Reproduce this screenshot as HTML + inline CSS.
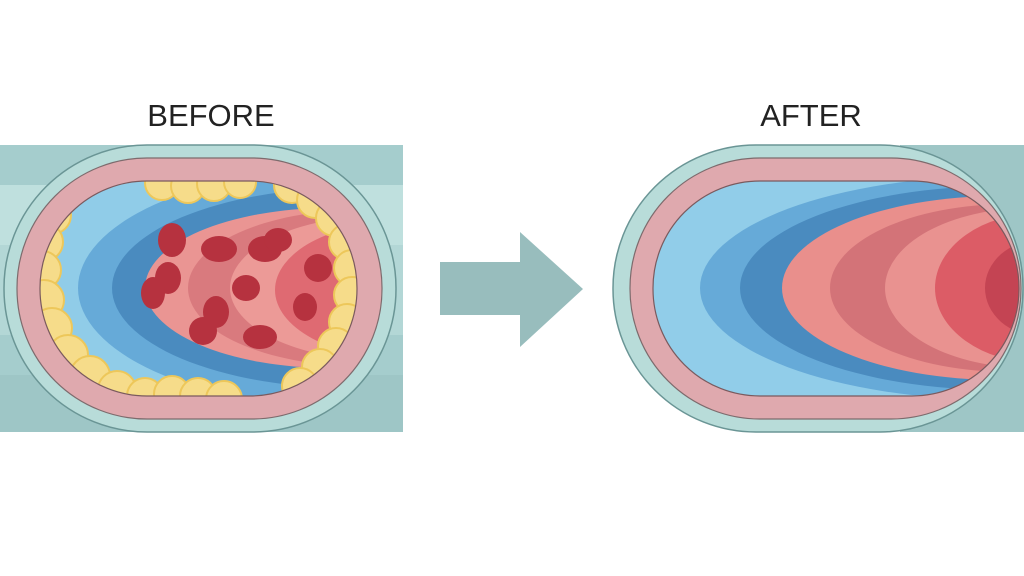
<!DOCTYPE html>
<html><head><style>body{margin:0;background:#fff}svg{display:block}</style></head><body>
<svg width="1024" height="576" viewBox="0 0 1024 576" xmlns="http://www.w3.org/2000/svg">
<defs>
<clipPath id="cl"><rect x="40" y="181" width="317" height="215" rx="107"/></clipPath>
<clipPath id="cr"><rect x="653" y="181" width="366" height="215" rx="107"/></clipPath>
</defs>
<rect width="1024" height="576" fill="#fff"/>
<text x="211" y="126" font-family="Liberation Sans, sans-serif" font-size="31" text-anchor="middle" fill="#222">BEFORE</text>
<text x="811" y="126" font-family="Liberation Sans, sans-serif" font-size="31" text-anchor="middle" fill="#222">AFTER</text>
<!-- left band -->
<rect x="0" y="145" width="403" height="287" fill="#a5cdcd"/>
<rect x="0" y="185" width="403" height="60" fill="#bfe0de"/>
<rect x="0" y="245" width="403" height="90" fill="#b3d7d6"/>
<rect x="0" y="375" width="403" height="57" fill="#9ec6c6"/>
<rect x="4" y="145" width="392" height="287" rx="143" fill="#b8dcd9" stroke="#6a9595" stroke-width="1.5"/>
<rect x="17" y="158" width="365" height="261" rx="130" fill="#dfa9ae" stroke="#7d6b6d" stroke-width="1.2"/>
<g clip-path="url(#cl)">
<rect x="40" y="181" width="317" height="215" fill="#90cce8"/>
<ellipse cx="340" cy="288" rx="262" ry="118" fill="#66aad8"/>
<ellipse cx="350" cy="288" rx="238" ry="100" fill="#4a8bbf"/>
<ellipse cx="330" cy="288" rx="185" ry="80" fill="#ea9593"/>
<ellipse cx="360" cy="288" rx="172" ry="78" fill="#d97a7e"/>
<ellipse cx="380" cy="288" rx="150" ry="72" fill="#ec9a97"/>
<ellipse cx="400" cy="290" rx="125" ry="68" fill="#df6a72"/>
<g fill="#b6323f">
<ellipse cx="172" cy="240" rx="14" ry="17"/><ellipse cx="168" cy="278" rx="13" ry="16"/>
<ellipse cx="153" cy="293" rx="12" ry="16"/><ellipse cx="219" cy="249" rx="18" ry="13"/>
<ellipse cx="265" cy="249" rx="17" ry="13"/><ellipse cx="278" cy="240" rx="14" ry="12"/>
<ellipse cx="246" cy="288" rx="14" ry="13"/><ellipse cx="216" cy="312" rx="13" ry="16"/>
<ellipse cx="203" cy="331" rx="14" ry="14"/><ellipse cx="260" cy="337" rx="17" ry="12"/>
<ellipse cx="318" cy="268" rx="14" ry="14"/><ellipse cx="305" cy="307" rx="12" ry="14"/>
</g>
<g fill="#f6dc8a" stroke="#edc75a" stroke-width="2">
<circle cx="162" cy="183" r="17"/><circle cx="188" cy="186" r="17"/><circle cx="214" cy="184" r="17"/><circle cx="240" cy="182" r="16"/>
<circle cx="52" cy="215" r="19"/><circle cx="44" cy="242" r="19"/><circle cx="42" cy="270" r="19"/><circle cx="44" cy="300" r="20"/><circle cx="52" cy="328" r="20"/><circle cx="68" cy="355" r="20"/><circle cx="90" cy="376" r="20"/><circle cx="117" cy="390" r="19"/><circle cx="145" cy="396" r="18"/><circle cx="172" cy="394" r="18"/><circle cx="198" cy="396" r="18"/><circle cx="224" cy="399" r="18"/>
<circle cx="292" cy="185" r="18"/><circle cx="315" cy="200" r="18"/><circle cx="334" cy="218" r="18"/><circle cx="347" cy="242" r="18"/><circle cx="352" cy="268" r="18"/><circle cx="352" cy="295" r="18"/><circle cx="347" cy="322" r="18"/><circle cx="336" cy="346" r="18"/><circle cx="320" cy="367" r="18"/><circle cx="300" cy="386" r="18"/>
</g>
</g>
<rect x="40" y="181" width="317" height="215" rx="107" fill="none" stroke="#7a5a5e" stroke-width="1.2"/>
<!-- arrow -->
<polygon points="440,262 520,262 520,232 583,289 520,347 520,315 440,315" fill="#98bdbd"/>
<!-- right band -->
<rect x="900" y="145" width="124" height="287" fill="#9ec6c6"/>
<rect x="613" y="145" width="410" height="287" rx="143" fill="#b8dcd9" stroke="#6a9595" stroke-width="1.5"/>
<rect x="630" y="158" width="391" height="261" rx="130" fill="#dfa9ae" stroke="#7d6b6d" stroke-width="1.2"/>
<g clip-path="url(#cr)">
<rect x="653" y="181" width="366" height="215" fill="#91cde9"/>
<ellipse cx="1000" cy="288" rx="300" ry="112" fill="#66aad8"/>
<ellipse cx="1000" cy="288" rx="260" ry="102" fill="#4a8bbf"/>
<ellipse cx="1000" cy="288" rx="218" ry="92" fill="#e98f8c"/>
<ellipse cx="1010" cy="288" rx="180" ry="84" fill="#d37378"/>
<ellipse cx="1030" cy="288" rx="145" ry="80" fill="#e99290"/>
<ellipse cx="1040" cy="288" rx="105" ry="75" fill="#dc5c66"/>
<ellipse cx="1040" cy="288" rx="55" ry="48" fill="#c44453"/>
</g>
<rect x="653" y="181" width="366" height="215" rx="107" fill="none" stroke="#7a5a5e" stroke-width="1.2"/>
</svg>
</body></html>
